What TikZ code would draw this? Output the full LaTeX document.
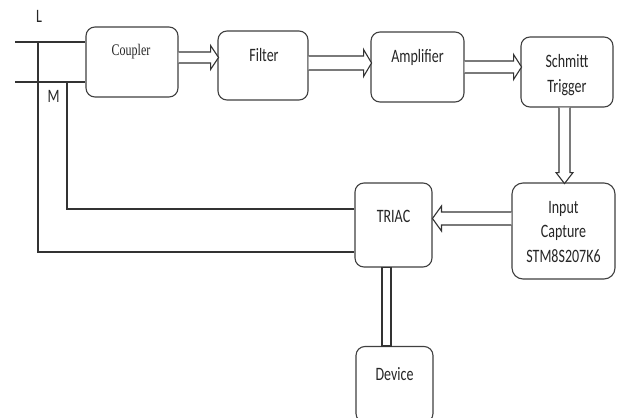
\documentclass[tikz,border=0pt]{standalone}
\usepackage{graphicx}
\usepackage{fontspec}
\setmainfont{Carlito}
\newfontfamily\couplerfont{Liberation Serif}
\newcommand\tall[1]{\scalebox{1}[1.35]{\begin{tabular}{@{}c@{}}#1\end{tabular}}}
\tikzset{
  blk/.style={draw=black!75, line width=1.1pt, rounded corners=9pt, fill=white},
  txt/.style={inner sep=0pt, text=black!85, font=\fontsize{14}{18}\selectfont},
  wire/.style={draw=black!80, line width=1.1pt},
  pics/hollow/.style args={#1/#2/#3/#4}{code={
    \draw[wire, fill=white, line join=miter] (0,#2) -- (#1-#4,#2) -- (#1-#4,#3) -- (#1,0)
      -- (#1-#4,-#3) -- (#1-#4,-#2) -- (0,-#2);}}
}
\begin{document}
\begin{tikzpicture}[x=1pt,y=-1pt]
  \path[use as bounding box, fill=white] (0,0) rectangle (620,417);
  \clip (0,0) rectangle (620,417);

  \node[blk, minimum width=92, minimum height=70] (coupler) at (132,62) {};
  \node[blk, minimum width=90, minimum height=69] (filter) at (263,65.5) {};
  \node[blk, minimum width=93, minimum height=70] (amp) at (417.5,67) {};
  \node[blk, minimum width=92, minimum height=70] (schmitt) at (567,72) {};
  \node[blk, minimum width=103, minimum height=96, rounded corners=11pt] (input) at (563.5,231) {};
  \node[blk, minimum width=77, minimum height=84] (triac) at (393.5,225) {};
  \node[blk, minimum width=77, minimum height=76] (device) at (394.5,384.5) {};

  \node[txt, font=\couplerfont\fontsize{12}{14}\selectfont] (coupler-t) at (131,52) {\tall{Coupler}};
  \node[txt] (filter-t) at (264,57) {\tall{Filter}};
  \node[txt] (amp-t) at (417.5,58) {\tall{Amplifier}};
  \node[txt] (schmitt-t) at (567,75) {\tall{Schmitt\\Trigger}};
  \node[txt] (input-t) at (563.5,233) {\tall{Input\\Capture\\STM8S207K6}};
  \node[txt] (triac-t) at (393.5,217.5) {\tall{TRIAC}};
  \node[txt] (device-t) at (394.5,376) {\tall{Device}};

  \node[txt] (lbl-l) at (39,17.5) {\tall{L}};
  \node[txt] (lbl-m) at (53.5,98) {\tall{M}};

  \coordinate (lin) at (15,42);
  \coordinate (min) at (15,82);
  \coordinate (ltap) at (38,42);
  \coordinate (mtap) at (67,82);
  \draw[wire] (lin) -- (lin -| coupler.west);
  \draw[wire] (min) -- (min -| coupler.west);
  \draw[wire] (ltap) |- (triac.west |- 0,252);
  \draw[wire] (mtap) |- (triac.west |- 0,209);

  \pic at (coupler.east |- 0,57.5) {hollow=40/5.5/12/8};
  \pic at (filter.east |- 0,63) {hollow=63/7/13.5/8};
  \pic at (amp.east |- 0,67) {hollow=57/6/12.5/8};
  \pic[rotate=-90] at (schmitt.south -| 564.5,0) {hollow=76/5.5/8.5/11};
  \pic[rotate=180] at (input.west |- 0,218.5) {hollow=79/6.5/12.5/9};
  \draw[wire, fill=white] ([xshift=-11.5]triac.south) rectangle ([xshift=-3.5]device.north);
\end{tikzpicture}
\end{document}
